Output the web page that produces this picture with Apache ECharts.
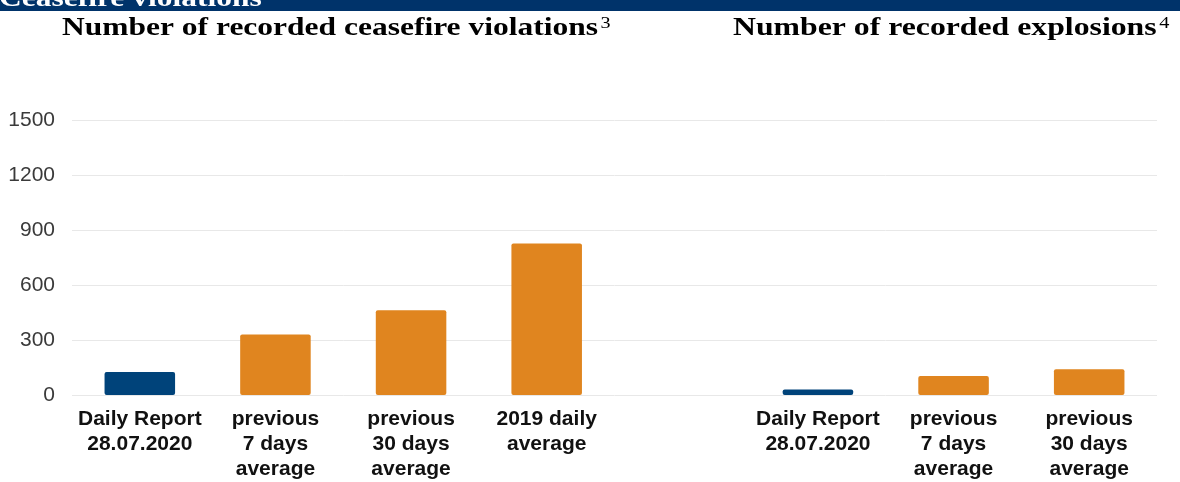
<!DOCTYPE html>
<html>
<head>
<meta charset="utf-8">
<script src="https://cdn.jsdelivr.net/npm/echarts@6/dist/echarts.min.js"></script>
<style>html,body{margin:0;padding:0;background:#fff}#c{width:1180px;height:482px}</style>
</head>
<body>
<div id="c"></div>
<script>
const headerText = 'Ceasefire violations';
const title1 = 'Number of recorded ceasefire violations';
const title1Note = '3';
const title2 = 'Number of recorded explosions';
const title2Note = '4';
const categories = ['Daily Report\n28.07.2020', 'previous\n7 days\naverage', 'previous\n30 days\naverage', '2019 daily\naverage', '', 'Daily Report\n28.07.2020', 'previous\n7 days\naverage', 'previous\n30 days\naverage'];
const ceasefireValues = [125, 330, 462, 827];
const explosionValues = [30, 104, 141];
const yTicks = [0, 300, 600, 900, 1200, 1500];

const values = ceasefireValues.concat(['-'], explosionValues);
const BLUE = '#00437A', ORANGE = '#E0851F';

const chart = echarts.init(document.getElementById('c'));
const titleStyle = (main, note) => ({
  text: '{b|' + main + '}{s|' + note + '}',
  rich: {
    b: {fontFamily: 'Liberation Serif', fontWeight: 'bold', fontSize: 25, fill: '#000'},
    s: {fontFamily: 'Liberation Serif', fontWeight: 'normal', fontSize: 16, fill: '#000', verticalAlign: 'top', padding: [0, 0, 0, 2]}
  },
  textVerticalAlign: 'bottom'
});
chart.setOption({
  animation: false,
  graphic: [
    {type: 'rect', left: 0, top: 0, shape: {width: 1180, height: 11}, style: {fill: '#00336A'}, z: 10},
    {type: 'text', x: -1, y: 12, scaleX: 1.26, style: {text: headerText, fontFamily: 'Liberation Serif', fontWeight: 'bold', fontSize: 25, fill: '#fff', textVerticalAlign: 'bottom'}, z: 11},
    {type: 'text', x: 62, y: 41, scaleX: 1.26, style: titleStyle(title1, title1Note), z: 11},
    {type: 'text', x: 733, y: 41, scaleX: 1.27, style: titleStyle(title2, title2Note), z: 11}
  ],
  grid: {left: 72, right: 23, top: 120, bottom: 85, containLabel: false},
  xAxis: {
    type: 'category',
    data: categories,
    axisLine: {show: false},
    axisTick: {show: false},
    axisLabel: {interval: 0, margin: 12, fontFamily: 'Liberation Sans', fontWeight: 'bold', fontSize: 21, lineHeight: 25, color: '#111'}
  },
  yAxis: {
    type: 'value',
    min: yTicks[0], max: yTicks[yTicks.length - 1], interval: yTicks[1] - yTicks[0],
    axisLine: {show: false}, axisTick: {show: false},
    axisLabel: {margin: 17, fontFamily: 'Liberation Sans', fontSize: 21, color: '#3a3a3a', formatter: v => String(v)},
    splitLine: {lineStyle: {color: '#e8e8e8', width: 1}}
  },
  series: [{
    type: 'bar',
    data: values,
    barCategoryGap: '48%',
    itemStyle: {
      borderRadius: 2,
      color: p => p.name.indexOf('Daily Report') === 0 ? BLUE : ORANGE
    }
  }]
});
</script>
</body>
</html>
